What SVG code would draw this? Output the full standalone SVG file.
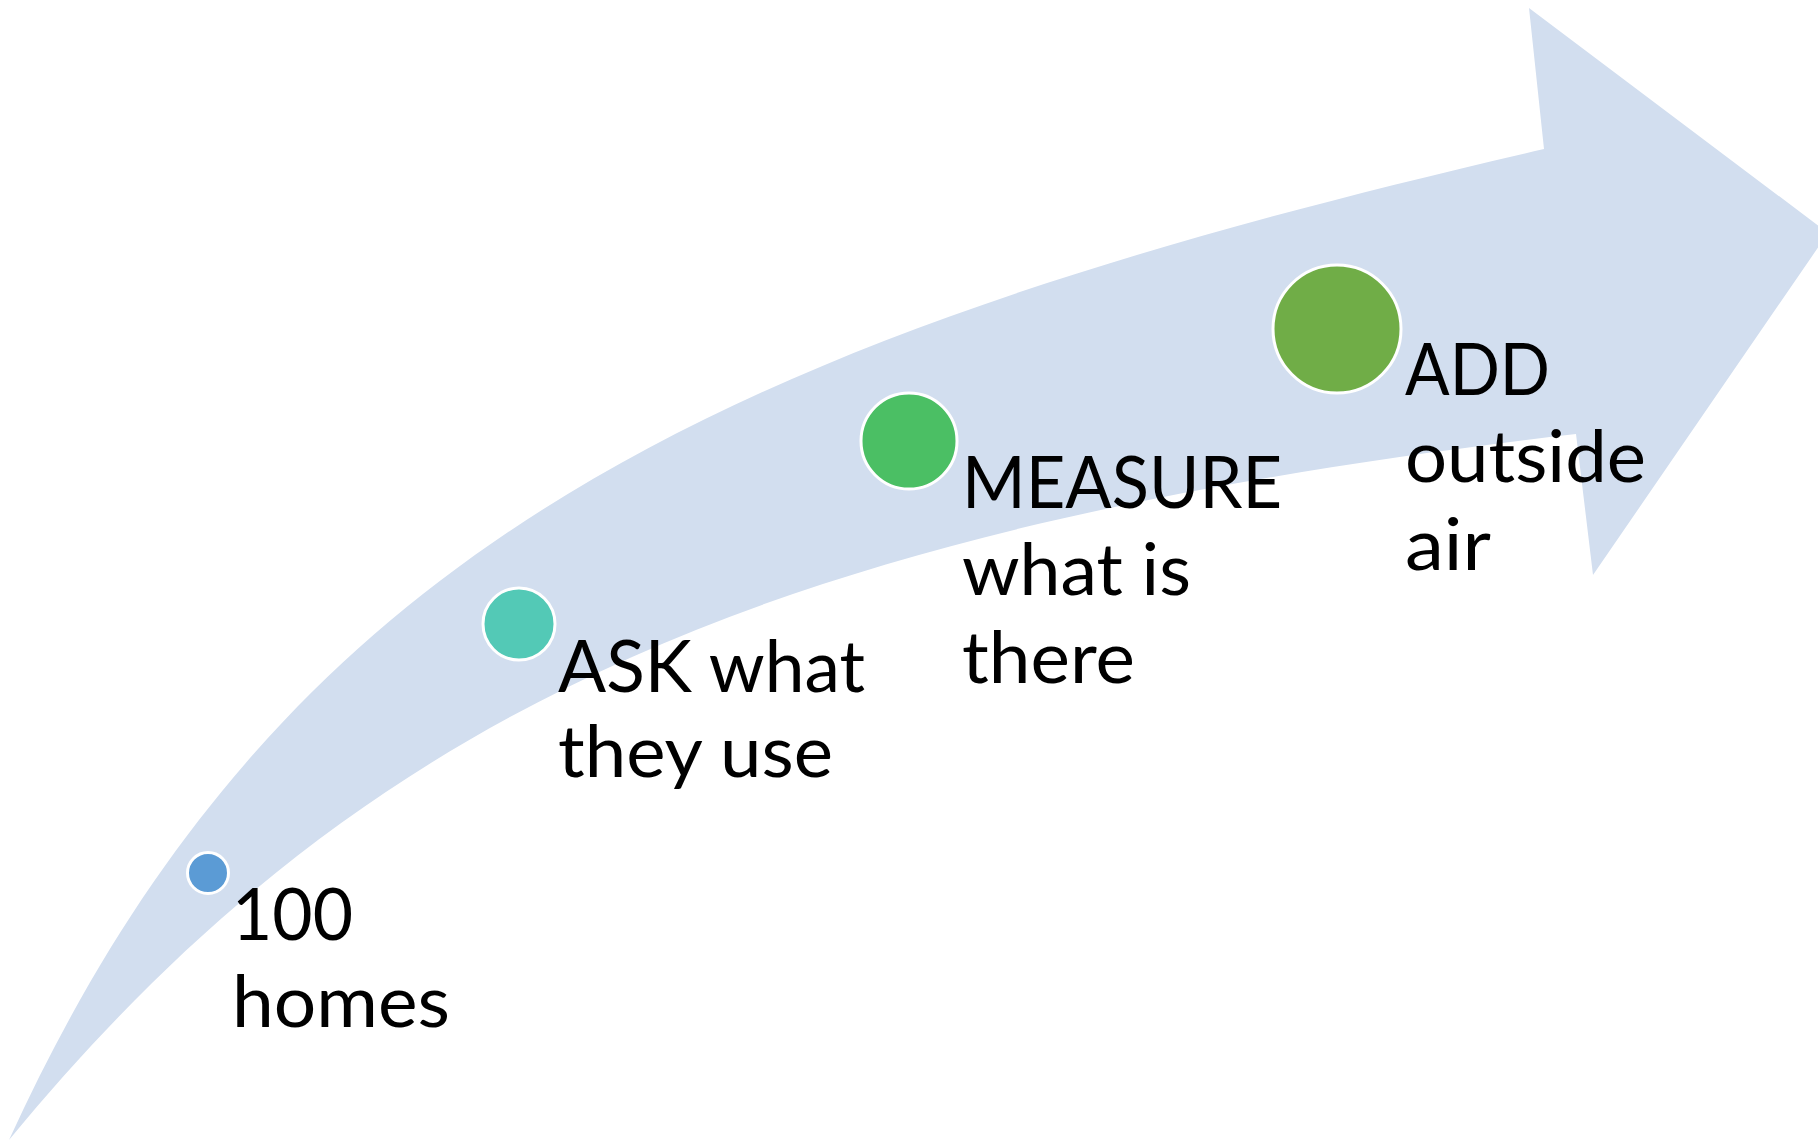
<svg xmlns="http://www.w3.org/2000/svg" width="1818" height="1141" viewBox="0 0 1818 1141">
  <style>
    .band { fill: #D2DEEF; }
    .dot { stroke: #FFFFFF; stroke-width: 3; }
    .lbl { font-family: Lato, "Open Sans", "Liberation Sans", sans-serif; font-size: 71px; fill: #000000; }
  </style>
  <rect x="0" y="0" width="1818" height="1141" fill="#FFFFFF"/>
  <g id="connectors">
    <path id="arrow" class="band" d="M 9,1140 C 278.8,548.5 716,340 1544,149 L 1529,8 L 1828,233 L 1593,575 L 1576,434 C 801.5,525.3 377.3,692.2 9,1140 Z"/>
  </g>
  <g id="node-homes">
    <circle class="dot" cx="208" cy="873" r="20.5" fill="#5B9BD5"/>
    <text class="lbl" x="232" y="940" textLength="121" lengthAdjust="spacingAndGlyphs">100</text>
    <text class="lbl" x="232" y="1027" textLength="218" lengthAdjust="spacingAndGlyphs">homes</text>
  </g>
  <g id="node-ask">
    <circle class="dot" cx="519" cy="624" r="36" fill="#53C9B6"/>
    <text class="lbl" x="558" y="692" textLength="307" lengthAdjust="spacingAndGlyphs">ASK what</text>
    <text class="lbl" x="558" y="777" textLength="275" lengthAdjust="spacingAndGlyphs">they use</text>
  </g>
  <g id="node-measure">
    <circle class="dot" cx="909" cy="441" r="48" fill="#4BBF64"/>
    <text class="lbl" x="962" y="508" textLength="320" lengthAdjust="spacingAndGlyphs">MEASURE</text>
    <text class="lbl" x="962" y="595" textLength="229" lengthAdjust="spacingAndGlyphs">what is</text>
    <text class="lbl" x="962" y="683" textLength="173" lengthAdjust="spacingAndGlyphs">there</text>
  </g>
  <g id="node-add">
    <circle class="dot" cx="1337" cy="329" r="64" fill="#70AD47"/>
    <text class="lbl" x="1405" y="395" textLength="145" lengthAdjust="spacingAndGlyphs">ADD</text>
    <text class="lbl" x="1405" y="482" textLength="241" lengthAdjust="spacingAndGlyphs">outside</text>
    <text class="lbl" x="1405" y="570" textLength="86" lengthAdjust="spacingAndGlyphs">air</text>
  </g>
</svg>
